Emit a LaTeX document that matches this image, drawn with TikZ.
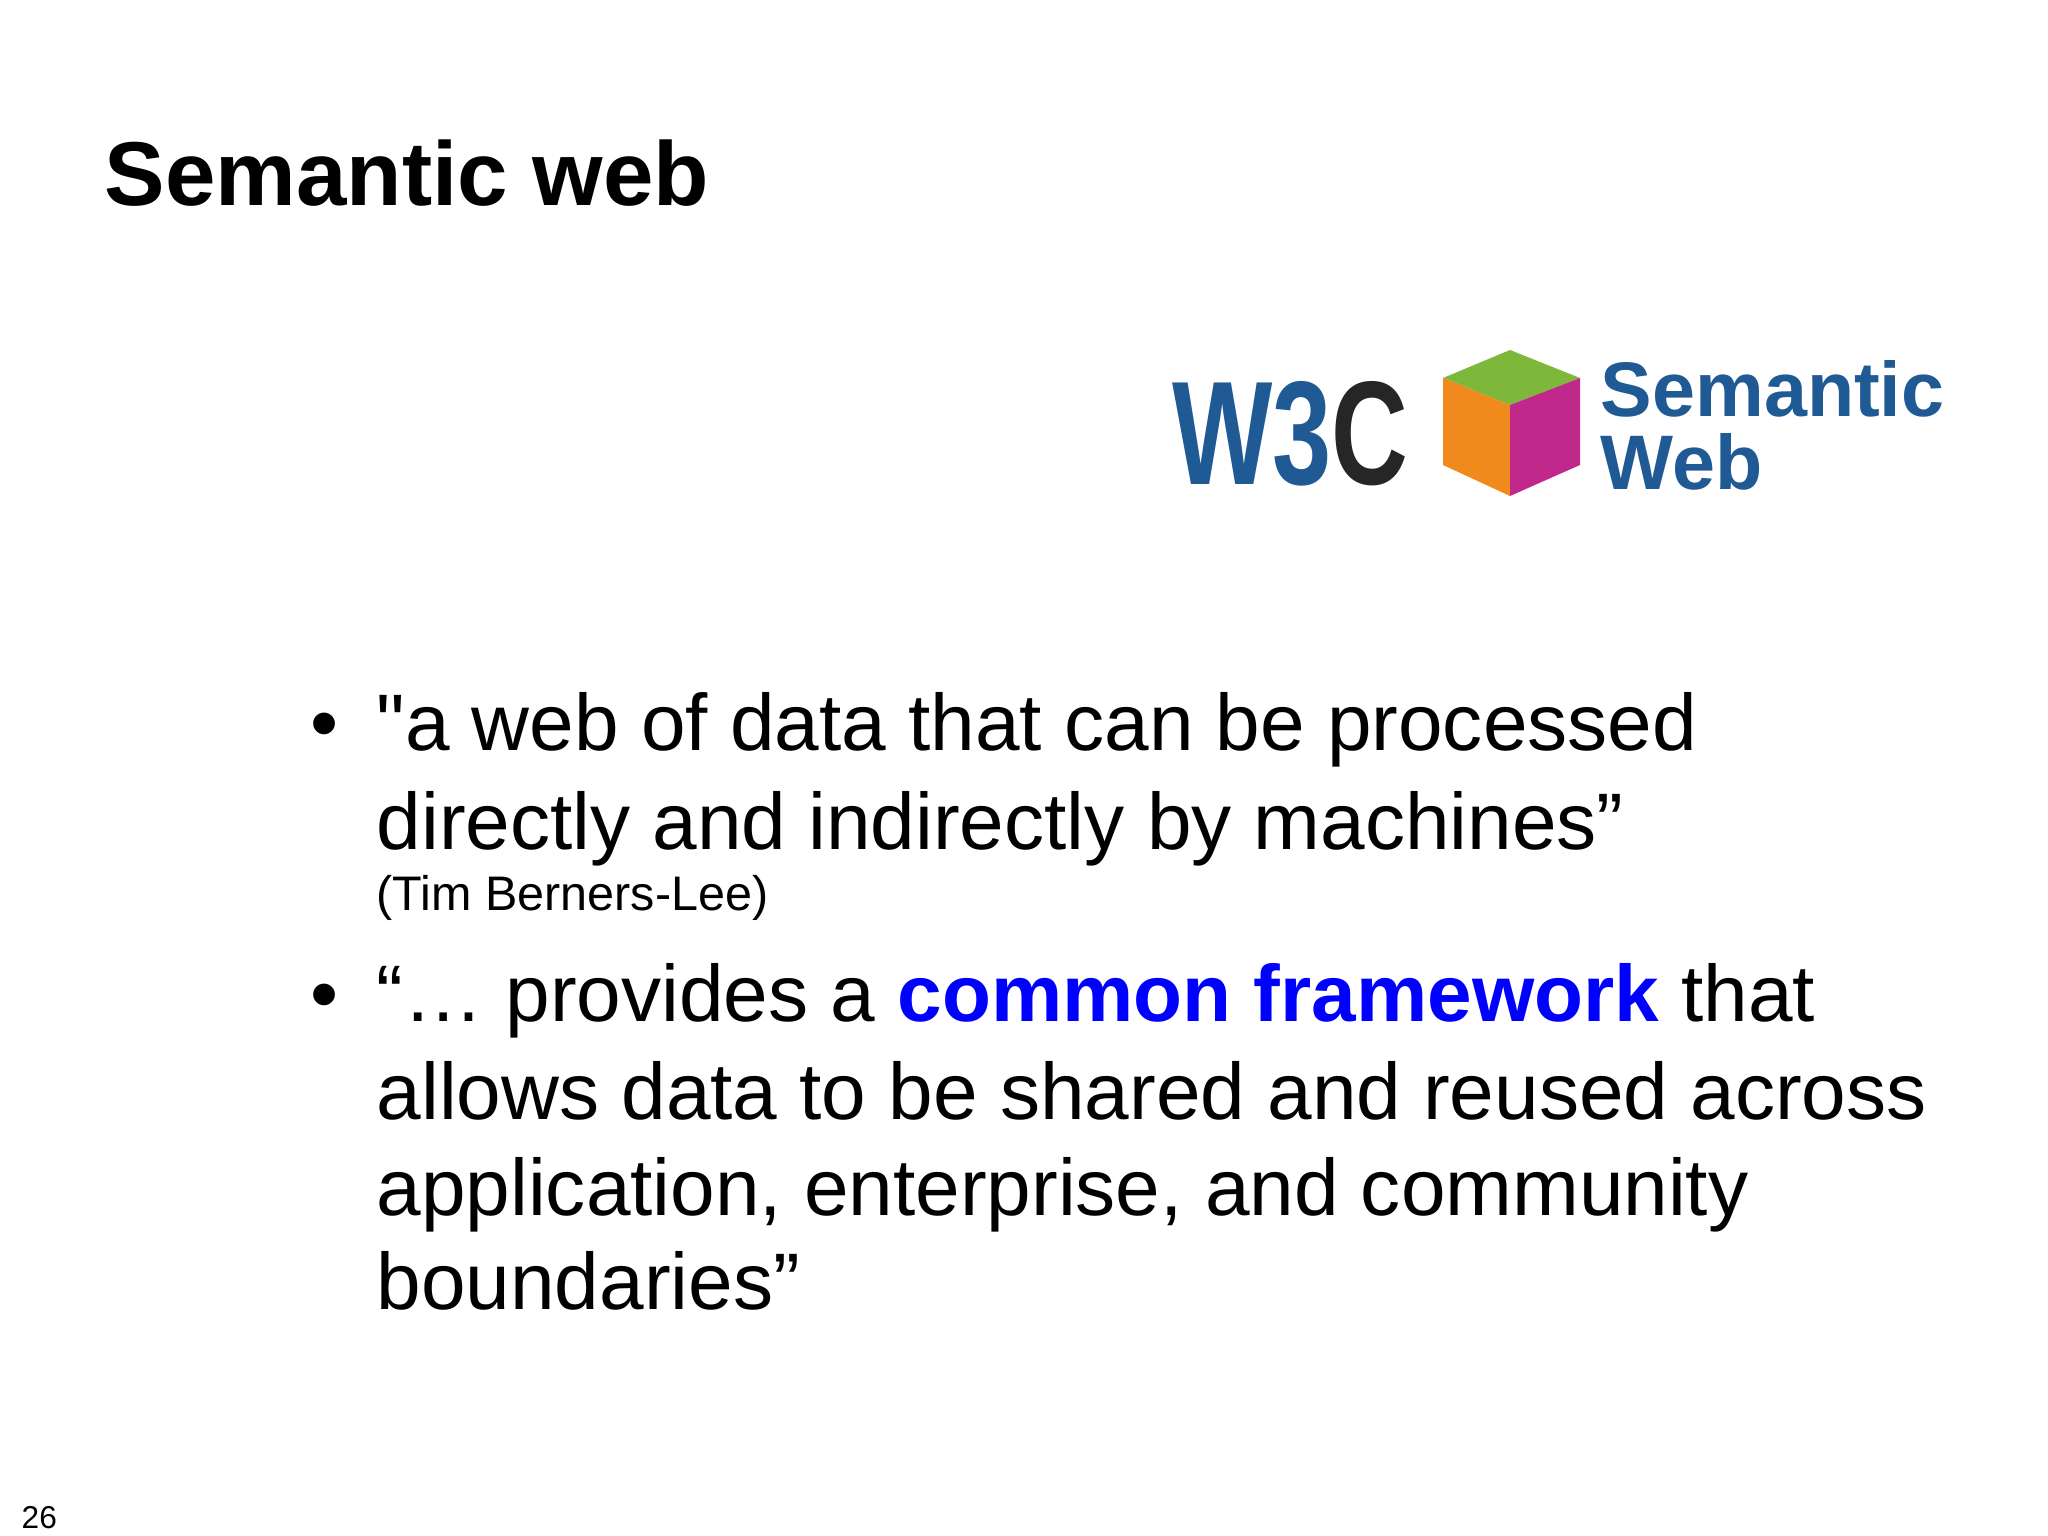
\documentclass[tikz,border=0pt]{standalone}
\usepackage{fontspec}
\setmainfont{Liberation Sans}[Ligatures=TeXOff]
\definecolor{w3blue}{HTML}{1F5A94}
\definecolor{cgreen}{HTML}{7DB83A}
\definecolor{corange}{HTML}{F08A1C}
\definecolor{cmag}{HTML}{C0288C}
\begin{document}
\begin{tikzpicture}[x=1cm,y=1cm,
  body/.style={anchor=base west,inner sep=0pt,font=\fontsize{22.8}{28}\selectfont},
  small/.style={anchor=base west,inner sep=0pt,font=\fontsize{13.8}{16}\selectfont}]
\useasboundingbox (0,0) rectangle (20.48,-15.36);
\node[anchor=base west,inner sep=0pt,font=\fontsize{25.8}{30}\selectfont\bfseries] (title) at (1.04,-2.06) {Semantic web};
% logo
\node[anchor=base west,inner sep=0pt,font=\fontsize{42}{42}\selectfont\bfseries,text=w3blue,xscale=0.72] (w3c) at (11.72,-4.85) {W3\textcolor{black!85}{C}};
\fill[cgreen] (14.43,-3.78) -- (15.10,-3.50) -- (15.80,-3.78) -- (15.10,-4.05) -- cycle;
\fill[corange] (14.43,-3.78) -- (15.10,-4.05) -- (15.10,-4.96) -- (14.43,-4.65) -- cycle;
\fill[cmag] (15.10,-4.05) -- (15.80,-3.78) -- (15.80,-4.65) -- (15.10,-4.96) -- cycle;
\node[anchor=base west,inner sep=0pt,font=\fontsize{22}{24}\selectfont\bfseries,text=w3blue] (sem) at (16.0,-4.17) {Semantic};
\node[anchor=base west,inner sep=0pt,font=\fontsize{22}{24}\selectfont\bfseries,text=w3blue] (web) at (16.0,-4.90) {Web};
% bullets
\node[body] (b1) at (3.10,-7.51) {•};
\node[body] (l1) at (3.76,-7.51) {"a web of data that can be processed};
\node[body] (l2) at (3.76,-8.49) {directly and indirectly by machines”};
\node[small] (l3) at (3.76,-9.10) {(Tim Berners-Lee)};
\node[body] (b2) at (3.10,-10.21) {•};
\node[body] (l4) at (3.76,-10.21) {“… provides a \textcolor{blue}{\bfseries common framework} that};
\node[body] (l5) at (3.76,-11.19) {allows data to be shared and reused across};
\node[body] (l6) at (3.76,-12.15) {application, enterprise, and community};
\node[body] (l7) at (3.76,-13.09) {boundaries”};
\node[anchor=base west,inner sep=0pt,font=\fontsize{9}{11}\selectfont] (pg) at (0.21,-15.28) {26};
\end{tikzpicture}
\end{document}
